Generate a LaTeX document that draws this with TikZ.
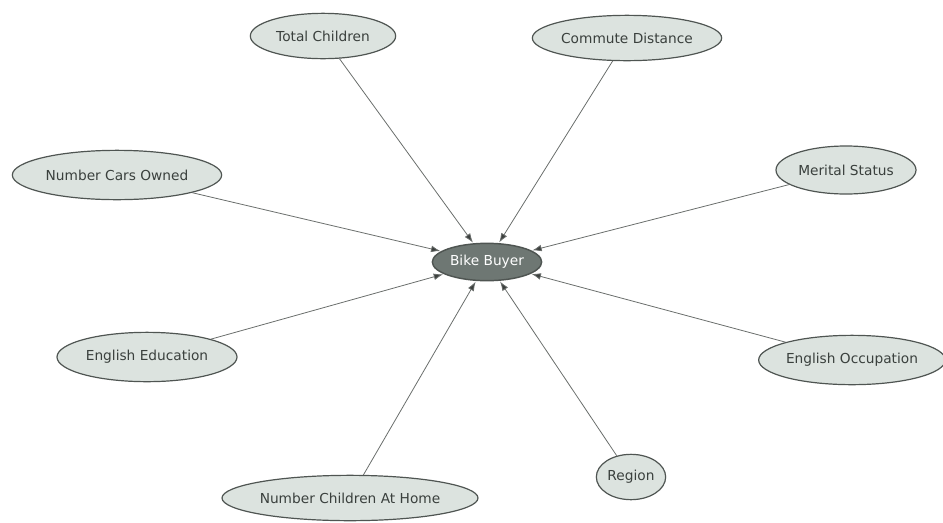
\documentclass[tikz,border=0pt]{standalone}
\usepackage{fontspec}
\setmainfont{DejaVu Sans}
\usetikzlibrary{shapes.geometric,arrows.meta}
\definecolor{nodefill}{HTML}{DCE3DF}
\definecolor{nodeline}{HTML}{4F5552}
\definecolor{nodetext}{HTML}{3A403D}
\definecolor{hubfill}{HTML}{6E7773}
\definecolor{edgeline}{HTML}{6A6E6C}
\definecolor{tipcol}{HTML}{3C403E}
\tikzset{
  attr/.style={ellipse, draw=nodeline, line width=0.9pt, fill=nodefill,
    text=nodetext, font=\fontsize{10.3}{12}\selectfont, inner sep=0pt},
  hub/.style={ellipse, draw=nodeline, line width=1.1pt, fill=hubfill,
    text=white, font=\fontsize{10.3}{12}\selectfont, inner sep=0pt},
  link/.style={draw=edgeline, line width=0.6pt,
    -{Latex[length=7pt,width=5pt,fill=tipcol]}, shorten >=0.5pt}
}
\begin{document}
\begin{tikzpicture}[x=0.75pt,y=-0.75pt]
  \useasboundingbox (0,0) rectangle (943,522);
  % central node
  \node[hub, minimum width=82pt, minimum height=28pt] (bb) at (487,262) {Bike Buyer};
  % attribute nodes
  \node[attr, minimum width=109pt, minimum height=34pt] (tc) at (323,36) {Total Children};
  \node[attr, minimum width=142pt, minimum height=34pt] (cd) at (627,38) {Commute Distance};
  \node[attr, minimum width=157pt, minimum height=37pt] (nc) at (117,175) {Number Cars Owned};
  \node[attr, minimum width=105pt, minimum height=36pt] (ms) at (846,170) {Merital Status};
  \node[attr, minimum width=135pt, minimum height=37pt] (ee) at (147,357) {English Education};
  \node[attr, minimum width=135pt, minimum height=37pt] (eo) at (852,360) {English Occupation};
  \node[attr, minimum width=192pt, minimum height=34pt] (nh) at (350,498) {Number Children At Home};
  \node[attr, minimum width=52pt, minimum height=34pt] (rg) at (631,477) {Region};
  % links into the central node
  \draw[link] (tc) -- (bb);
  \draw[link] (cd) -- (bb);
  \draw[link] (nc) -- (bb);
  \draw[link] (ms) -- (bb);
  \draw[link] (ee) -- (bb);
  \draw[link] (eo) -- (bb);
  \draw[link] (nh) -- (bb);
  \draw[link] (rg) -- (bb);
\end{tikzpicture}
\end{document}
